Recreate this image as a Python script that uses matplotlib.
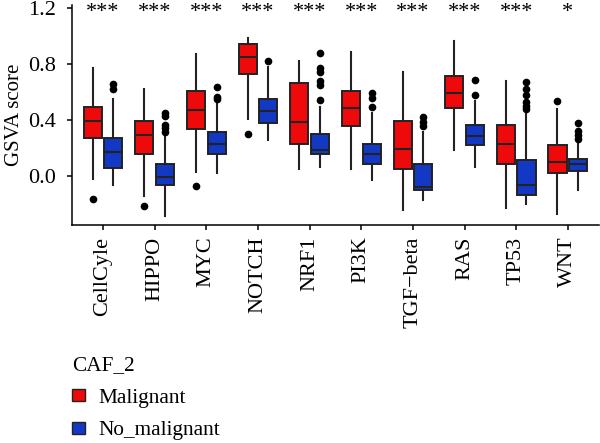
import matplotlib
matplotlib.use("Agg")
import matplotlib.pyplot as plt
from matplotlib.patches import Patch

plt.rcParams['font.family'] = ['Liberation Serif', 'DejaVu Serif']

categories = ["CellCyle", "HIPPO", "MYC", "NOTCH", "NRF1", "PI3K", "TGF\u2212beta", "RAS", "TP53", "WNT"]
significance = ["***", "***", "***", "***", "***", "***", "***", "***", "***", "*"]

# Malignant: (whislo, q1, median, q3, whishi)
mal_whislo = [-0.02, -0.143, 0.03, 0.407, 0.048, 0.052, -0.243, 0.186, -0.233, -0.271]
mal_q1     = [0.27, 0.157, 0.335, 0.726, 0.231, 0.355, 0.052, 0.483, 0.083, 0.021]
mal_med    = [0.39, 0.29, 0.47, 0.852, 0.386, 0.488, 0.195, 0.593, 0.226, 0.102]
mal_q3     = [0.49, 0.395, 0.605, 0.945, 0.662, 0.61, 0.395, 0.714, 0.364, 0.221]
mal_whishi = [0.775, 0.62, 0.87, 0.99, 0.82, 0.888, 0.745, 0.967, 0.681, 0.481]
mal_fliers = [[-0.17], [-0.22], [-0.076], [0.30], [], [], [], [], [], [0.538]]

# No_malignant
non_whislo = [-0.065, -0.29, 0.019, 0.257, 0.06, -0.031, -0.171, 0.06, -0.2, -0.1]
non_q1     = [0.055, -0.067, 0.157, 0.376, 0.155, 0.086, -0.102, 0.224, -0.136, 0.031]
non_med    = [0.17, -0.01, 0.229, 0.466, 0.186, 0.155, -0.083, 0.283, -0.064, 0.086]
non_q3     = [0.27, 0.083, 0.314, 0.55, 0.302, 0.229, 0.081, 0.362, 0.112, 0.119]
non_whishi = [0.55, 0.28, 0.54, 0.78, 0.49, 0.452, 0.317, 0.536, 0.46, 0.245]
non_fliers = [[0.62, 0.66], [0.316, 0.34, 0.365, 0.43, 0.45], [0.55, 0.566, 0.634], [0.82],
              [0.543, 0.65, 0.679, 0.745, 0.769, 0.883], [0.49, 0.555, 0.59],
              [0.357, 0.388, 0.419], [0.576, 0.69], [0.48, 0.5, 0.531, 0.576, 0.619, 0.674],
              [0.262, 0.293, 0.321, 0.381]]

group_names = ["Malignant", "No_malignant"]
group_colors = ["#ee0a0a", "#1238c4"]

fig = plt.figure(figsize=(6.0, 4.43), dpi=100)
ax = fig.add_axes([0.12, 0.493, 0.878, 0.496])

def stats(wl, q1, med, q3, wh, fl):
    return [dict(whislo=a, q1=b, med=c, q3=d, whishi=e, fliers=f)
            for a, b, c, d, e, f in zip(wl, q1, med, q3, wh, fl)]

positions = list(range(1, len(categories) + 1))
groups = [
    stats(mal_whislo, mal_q1, mal_med, mal_q3, mal_whishi, mal_fliers),
    stats(non_whislo, non_q1, non_med, non_q3, non_whishi, non_fliers),
]
offsets = [-0.2, 0.2]
for st, off, col in zip(groups, offsets, group_colors):
    ax.bxp(st, positions=[p + off for p in positions], widths=0.35,
           patch_artist=True, showcaps=False,
           boxprops=dict(facecolor=col, edgecolor="#222222", linewidth=1.4),
           medianprops=dict(color="#222222", linewidth=1.5),
           whiskerprops=dict(color="#222222", linewidth=1.5),
           flierprops=dict(marker="o", markerfacecolor="black", markeredgecolor="black",
                           markersize=4.5, linestyle="none"))

for p, s in zip(positions, significance):
    ax.text(p, 1.172, s, ha="center", va="center", fontsize=16)

ax.set_xlim(0.4, 10.6)
ax.set_ylim(-0.35, 1.225)
ax.set_xticks(positions)
ax.set_xticklabels(categories, rotation=90, fontsize=16)
ax.set_yticks([0.0, 0.4, 0.8, 1.2])
ax.set_yticklabels(["0.0", "0.4", "0.8", "1.2"], fontsize=16)
ax.set_ylabel("GSVA score", fontsize=15, labelpad=3)
ax.tick_params(direction="out", length=3.6, width=1.1, color="black")
ax.tick_params(axis="x", pad=5)
ax.tick_params(axis="y", pad=8)
for side in ["top", "right"]:
    ax.spines[side].set_visible(False)
for side in ["left", "bottom"]:
    ax.spines[side].set_linewidth(1.1)

handles = [Patch(facecolor=c, edgecolor="#222222", linewidth=1.0, label=n)
           for c, n in zip(group_colors, group_names)]
leg = fig.legend(handles=handles, title="CAF_2", loc="upper left",
                 bbox_to_anchor=(0.12, 0.196), frameon=False, fontsize=15.3,
                 title_fontsize=15.3, handlelength=0.63, handleheight=0.5,
                 handletextpad=0.63, labelspacing=0.64, alignment="left",
                 borderpad=0, borderaxespad=0)

fig.savefig("out.png", dpi=100)
